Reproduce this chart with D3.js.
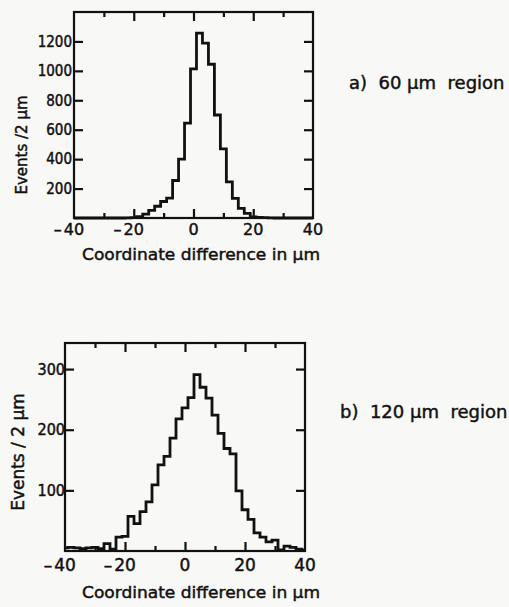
<!DOCTYPE html>
<html>
<head>
<meta charset="utf-8">
<script src="https://cdn.jsdelivr.net/npm/d3@7"></script>
<style>
  body { margin: 0; background: #f8f8f6; }
  svg { display: block; }
  text { fill: #111; font-family: "DejaVu Sans", sans-serif; }
  .heavy { stroke: #111; stroke-width: 0.45px; }
</style>
</head>
<body>
<svg id="chart" width="509" height="607"></svg>
<script>
(function(){

// bin centres in µm (2 µm bins)
const binCenters = [-40,-38,-36,-34,-32,-30,-28,-26,-24,-22,-20,-18,-16,-14,-12,-10,-8,-6,-4,-2,
                    0,2,4,6,8,10,12,14,16,18,20,22,24,26,28,30,32,34,36,38,40];

// a) 60 µm region
const events60 = [0,0,0,0,0,0,0,0,0,1,3,9,26,52,80,112,135,255,400,645,
                  1013,1257,1189,1045,700,470,245,134,66,31,8,4,2,1,0,0,0,0,0,0,0];

// b) 120 µm region
const events120 = [5,6,5,4,5,6,4,12,3,23,24,57,45,65,81,109,142,156,186,218,
                   236,253,291,270,252,224,194,169,160,99,68,52,30,23,15,18,2,8,6,3,1];

const yTicks60 = [200,400,600,800,1000,1200];
const yTicks120 = [100,200,300];
const xLabels = [-40,-20,0,20,40];
const xMajor = [-20,0,20];
const xMinor = [-30,-10,10,30];

const svg = d3.select("#chart");
const ink = "#111";

function drawPanel(p)
{
  let x = d3.scaleLinear().domain([-40, 40]).range([p.left, p.right]);
  let y = d3.scaleLinear().domain([0, p.yMax]).range([p.bottom, p.top]);
  let g = svg.append("g");

  // histogram outline
  let pts = binCenters.map((c, i) => ({lo: Math.max(c - 1, -40), v: p.values[i]}));
  pts.push({lo: 40, v: p.values[p.values.length - 1]});

  let step = d3.line()
    .x(d => x(d.lo))
    .y(d => y(d.v))
    .curve(d3.curveStepAfter);

  g.append("path")
    .datum(pts)
    .attr("d", step)
    .attr("fill", "none")
    .attr("stroke", ink)
    .attr("stroke-width", 2.8)
    .attr("stroke-linejoin", "miter");

  // frame
  g.append("rect")
    .attr("x", p.left).attr("y", p.top)
    .attr("width", p.right - p.left).attr("height", p.bottom - p.top)
    .attr("fill", "none").attr("stroke", ink).attr("stroke-width", 2.2);

  // inward ticks on all four sides
  function ticks(axis, tx, ty)
  {
    let a = g.append("g").attr("transform", "translate(" + tx + "," + ty + ")").call(axis);
    a.select(".domain").remove();
    a.selectAll("line").attr("stroke", ink).attr("stroke-width", 2.2);
    return a;
  }
  ticks(d3.axisBottom(x).tickValues(xMajor).tickSize(-9).tickFormat(""), 0, p.bottom);
  ticks(d3.axisBottom(x).tickValues(xMinor).tickSize(-5).tickFormat(""), 0, p.bottom);
  ticks(d3.axisTop(x).tickValues(xMajor).tickSize(-9).tickFormat(""), 0, p.top);
  ticks(d3.axisTop(x).tickValues(xMinor).tickSize(-5).tickFormat(""), 0, p.top);
  ticks(d3.axisRight(y).tickValues(p.yTicks).tickSize(-9).tickFormat(""), p.right, 0);

  let left = ticks(d3.axisLeft(y).tickValues(p.yTicks).tickSize(-9)
                     .tickPadding(p.yPad).tickFormat(d3.format("d")), p.left, 0);
  left.attr("font-family", null).attr("font-size", null);
  left.selectAll("text")
    .attr("fill", ink)
    .attr("class", "heavy")
    .style("font-size", p.yFont + "px")
    .style("font-stretch", "condensed")
    .style("font-family", "'DejaVu Sans Condensed','DejaVu Sans',sans-serif");

  // x tick labels: digits centred on the tick, minus hangs to the left
  xLabels.forEach(v => {
    let t = g.append("text")
      .attr("class", "heavy")
      .attr("x", x(v)).attr("y", p.bottom + p.xLabelDy)
      .attr("text-anchor", "middle")
      .style("font-size", p.xFont + "px")
      .text(Math.abs(v));
    if (v < 0) {
      let w = t.node().getComputedTextLength();
      g.append("text")
        .attr("class", "heavy")
        .attr("x", x(v) - w / 2 - 2).attr("y", p.bottom + p.xLabelDy)
        .attr("text-anchor", "end")
        .style("font-size", p.xFont + "px")
        .text("–");
    }
  });

  // axis titles
  g.append("text")
    .attr("class", "heavy")
    .attr("x", 82).attr("y", p.bottom + p.titleDy)
    .attr("textLength", 238).attr("lengthAdjust", "spacingAndGlyphs")
    .style("font-size", "16px")
    .text("Coordinate difference in µm");

  g.append("text")
    .attr("class", "heavy")
    .attr("transform", "translate(" + p.yTitleX + "," + ((p.top + p.bottom) / 2 + p.yTitleShift) + ") rotate(-90)")
    .attr("text-anchor", "middle")
    .style("font-size", p.yTitleFont + "px")
    .text(p.yTitle);

  // region label
  g.append("text")
    .attr("class", "heavy")
    .attr("x", p.noteX).attr("y", p.noteY)
    .style("font-size", "18px")
    .style("white-space", "pre")
    .text(p.note);
}

drawPanel({
  values: events60, yMax: 1400, yTicks: yTicks60,
  left: 74, right: 313, top: 12, bottom: 218,
  yFont: 15, yPad: 2, xFont: 16, xLabelDy: 17, titleDy: 42,
  yTitle: "Events /2 µm", yTitleX: 27, yTitleFont: 15, yTitleShift: 30,
  note: "a)  60 µm  region", noteX: 349, noteY: 89
});

drawPanel({
  values: events120, yMax: 343, yTicks: yTicks120,
  left: 65, right: 305, top: 343, bottom: 551,
  yFont: 16, yPad: 0, xFont: 17, xLabelDy: 20, titleDy: 47,
  yTitle: "Events / 2 µm", yTitleX: 24, yTitleFont: 17, yTitleShift: 5,
  note: "b)  120 µm  region", noteX: 340, noteY: 418
});

})();
</script>
</body>
</html>
